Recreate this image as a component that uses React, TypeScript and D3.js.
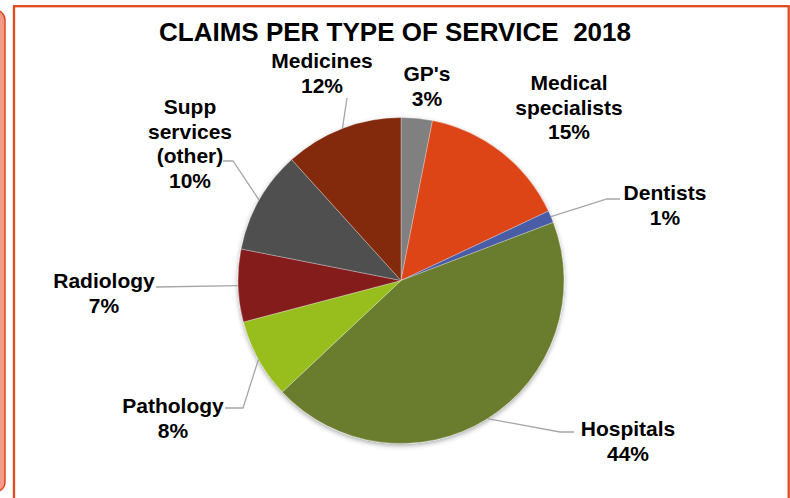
import React from "react";
import * as d3 from "d3";

const categories = ["GP's", "Medical specialists", "Dentists", "Hospitals", "Pathology", "Radiology", "Supp services (other)", "Medicines"];
const values = [3.1, 14.9, 1.2, 43.8, 7.9, 7.2, 10.2, 11.7];
const labelLines = [["GP's"], ["Medical", "specialists"], ["Dentists"], ["Hospitals"], ["Pathology"], ["Radiology"], ["Supp", "services", "(other)"], ["Medicines"]];
const colors = ["#808080", "#DD4418", "#4A5CA6", "#6A7D2D", "#97BE1F", "#851A1E", "#505050", "#83290F"];
const title = "CLAIMS PER TYPE OF SERVICE  2018";

// layout (label anchor: center x, first baseline) and leader-line knees
const labelAnchors: [number, number][] = [[427, 81], [569, 90], [665, 200], [628, 436], [173, 413], [104, 288], [190, 114], [322, 68]];
const leaderKnees: ([number, number][] | null)[] = [
  null,
  null,
  [[607, 199], [620, 199]],
  [[560, 432], [574, 432]],
  [[243, 408], [225, 408]],
  [[156, 287]],
  [[233, 161], [223, 161]],
  [[347, 98]],
];

const W = 790, H = 498;
const cx = 401, cy = 280.5, R = 163;
const FONT = "Arial, 'Liberation Sans', sans-serif";

export default function App() {
  const total = d3.sum(values);
  const pie = d3.pie<number>().sort(null).value((d) => d).startAngle(0).endAngle(2 * Math.PI);
  const arcs = pie(values);
  const arc = d3.arc<d3.PieArcDatum<number>>().innerRadius(0).outerRadius(R);
  const line = d3.line();

  return (
    <svg width={W} height={H} style={{ position: "absolute", left: 0, top: 0, background: "#fff" }} fontFamily={FONT}>
      <defs>
        <filter id="sh" x="-20%" y="-20%" width="140%" height="140%">
          <feDropShadow dx="0" dy="2" stdDeviation="2.5" floodColor="#000" floodOpacity="0.35" />
        </filter>
      </defs>
      {/* left side panel */}
      <rect x={-20} y={10} width={25} height={482} rx={10} fill="#F39B89" stroke="#E2471E" strokeWidth={1.5} />
      {/* chart border */}
      <rect x={14} y={6.2} width={774.7} height={H + 20} fill="#fff" stroke="#E04A1F" strokeWidth={2.3} />
      <text x={395} y={41} textAnchor="middle" fontSize={26} fontWeight="bold" fill="#000" style={{ whiteSpace: "pre" }}>
        {title}
      </text>
      <g transform={`translate(${cx},${cy})`} filter="url(#sh)">
        {arcs.map((a, i) => (
          <path key={categories[i]} d={arc(a) as string} fill={colors[i]} stroke="#ffffff" strokeOpacity={0.5} strokeWidth={0.6} />
        ))}
      </g>
      {arcs.map((a, i) => {
        const knees = leaderKnees[i];
        if (!knees) return null;
        const mid = (a.startAngle + a.endAngle) / 2;
        const start: [number, number] = [cx + R * Math.sin(mid), cy - R * Math.cos(mid)];
        return <path key={"l" + i} d={line([start, ...knees]) as string} fill="none" stroke="#A6A6A6" strokeWidth={1.3} />;
      })}
      {categories.map((c, i) => {
        const [x, y] = labelAnchors[i];
        const lines = [...labelLines[i], Math.round((values[i] / total) * 100) + "%"];
        return (
          <text key={"t" + c} x={x} y={y} textAnchor="middle" fontSize={21} fontWeight="bold" fill="#000">
            {lines.map((t, j) => (
              <tspan key={j} x={x} dy={j === 0 ? 0 : 24.5}>
                {t}
              </tspan>
            ))}
          </text>
        );
      })}
    </svg>
  );
}
